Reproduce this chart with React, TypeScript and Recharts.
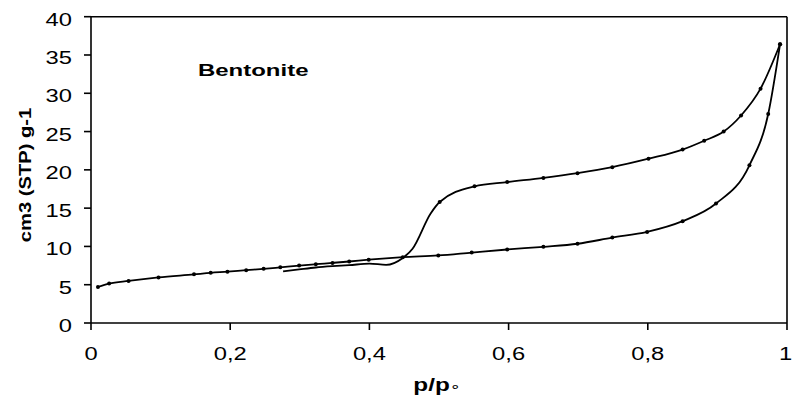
import React from "react";
import { LineChart, Line, XAxis, YAxis, ReferenceLine } from "recharts";

// Adsorption branch (p/p0, volume cm3 STP g-1)
const adsorptionX = [0.01, 0.026, 0.054, 0.097, 0.148, 0.172, 0.196, 0.223, 0.248, 0.272, 0.299, 0.323, 0.347, 0.371, 0.399, 0.448, 0.499, 0.547, 0.598, 0.65, 0.699, 0.749, 0.799, 0.85, 0.898, 0.946, 0.973, 0.99];
const adsorptionY = [4.7, 5.15, 5.5, 5.95, 6.35, 6.55, 6.7, 6.9, 7.07, 7.27, 7.5, 7.68, 7.85, 8.03, 8.27, 8.6, 8.82, 9.2, 9.6, 9.95, 10.35, 11.15, 11.9, 13.3, 15.6, 20.6, 27.3, 36.4];

// Desorption branch (listed in increasing p/p0)
const desorptionX = [0.276, 0.299, 0.323, 0.347, 0.371, 0.4, 0.424, 0.448, 0.462, 0.488, 0.501, 0.551, 0.598, 0.65, 0.699, 0.749, 0.801, 0.85, 0.881, 0.909, 0.934, 0.962, 0.99];
const desorptionY = [6.75, 7.0, 7.25, 7.42, 7.55, 7.75, 7.6, 8.5, 9.7, 14.3, 15.8, 17.85, 18.4, 18.95, 19.57, 20.35, 21.45, 22.65, 23.8, 25.0, 27.1, 30.6, 36.4];

const xTicks = [0, 0.2, 0.4, 0.6, 0.8, 1];
const yTicks = [0, 5, 10, 15, 20, 25, 30, 35, 40];

const adsorption = adsorptionX.map((x, i) => ({ x, y: adsorptionY[i] }));
const desorption = desorptionX.map((x, i) => ({ x, y: desorptionY[i] }));

const FONT = "'Liberation Sans', Arial, sans-serif";
const SX = 1.32;

const fmt = (v: number) => String(v).replace(".", ",");

const XTick = (p: any) => (
  <text
    transform={`translate(${p.x - (p.payload.value === 1 ? 1.5 : 0)},${p.y}) scale(${SX},1)`}
    textAnchor="middle"
    dy={28}
    fontSize={18}
    fontFamily={FONT}
    fill="#000"
  >
    {fmt(p.payload.value)}
  </text>
);

const YTick = (p: any) => (
  <text
    transform={`translate(${p.x},${p.y}) scale(${SX},1)`}
    textAnchor="end"
    dy={9}
    fontSize={18}
    fontFamily={FONT}
    fill="#000"
  >
    {fmt(p.payload.value)}
  </text>
);

const XLabel = () => (
  <text
    transform={`translate(437,391) scale(1.35,1)`}
    textAnchor="middle"
    fontSize={18}
    fontWeight="bold"
    fontFamily={FONT}
    fill="#000"
  >
    p/p<tspan fontSize={13} fontWeight="normal" fontFamily="'DejaVu Sans', sans-serif">∘</tspan>
  </text>
);

const YLabel = () => (
  <g>
    <text
      transform={`translate(31,175) rotate(-90) scale(1.26,1)`}
      textAnchor="middle"
      fontSize={16}
      fontWeight="bold"
      fontFamily={FONT}
      fill="#000"
    >
      cm3 (STP) g-1
    </text>
    <text
      transform={`translate(198,76) scale(1.41,1)`}
      textAnchor="start"
      fontSize={17}
      fontWeight="bold"
      fontFamily={FONT}
      fill="#000"
    >
      Bentonite
    </text>
  </g>
);

const makeDot = (minX: number) => (p: any) => {
  const key = `d-${p.index}-${minX}`;
  if (p.payload.x < minX) return <g key={key} />;
  return <circle key={key} cx={p.cx} cy={p.cy} r={2} fill="#000" stroke="none" />;
};

export default function App() {
  return (
    <div style={{ position: "absolute", left: 0, top: 0, width: 792, height: 405, overflow: "hidden", background: "#fff" }}>
      <LineChart
        width={792}
        height={405}
        margin={{ top: 16.7, right: 5, bottom: 22, left: 31 }}
      >
        <XAxis
          type="number"
          dataKey="x"
          domain={[0, 1]}
          ticks={xTicks}
          tick={<XTick />}
          tickSize={7}
          tickMargin={2}
          height={60}
          axisLine={{ stroke: "#000", strokeWidth: 1.6 }}
          tickLine={{ stroke: "#000", strokeWidth: 1.6 }}
          allowDataOverflow
          label={{ content: () => <XLabel /> }}
        />
        <YAxis
          type="number"
          dataKey="y"
          domain={[0, 40]}
          ticks={yTicks}
          tick={<YTick />}
          tickSize={7}
          tickMargin={12}
          width={60}
          axisLine={{ stroke: "#000", strokeWidth: 1.6 }}
          tickLine={{ stroke: "#000", strokeWidth: 1.6 }}
          allowDataOverflow
          label={{ content: () => <YLabel /> }}
        />
        <ReferenceLine y={40} stroke="#000" strokeWidth={1.6} />
        <ReferenceLine x={1} stroke="#000" strokeWidth={1.6} />
        <Line
          data={adsorption}
          dataKey="y"
          type="monotone"
          stroke="#000"
          strokeWidth={1.8}
          dot={makeDot(0)}
          isAnimationActive={false}
        />
        <Line
          data={desorption}
          dataKey="y"
          type="monotone"
          stroke="#000"
          strokeWidth={1.8}
          dot={makeDot(0.5)}
          isAnimationActive={false}
        />
      </LineChart>
    </div>
  );
}
